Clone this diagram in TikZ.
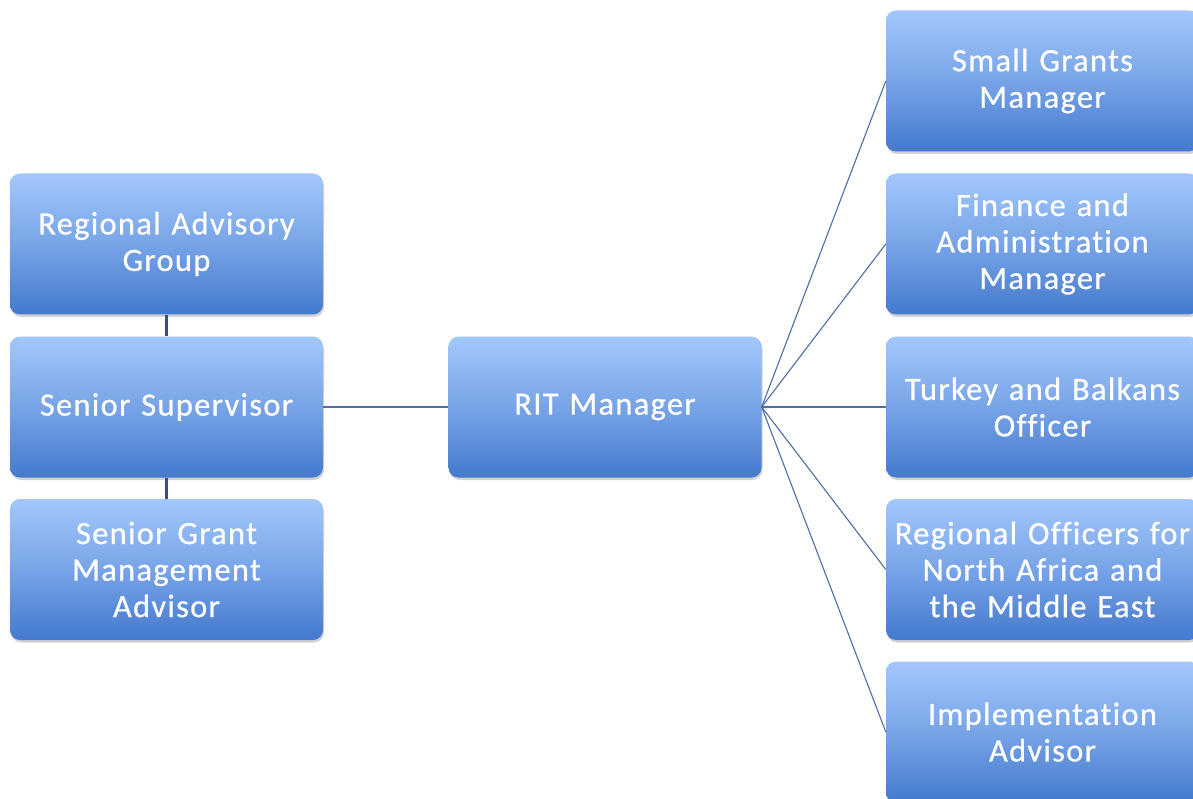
\documentclass[tikz,border=0pt]{standalone}
\usepackage{fontspec}
\setmainfont{Carlito}[LetterSpace=4, Ligatures={NoCommon}, FakeBold=0.6]
\usetikzlibrary{shadows}
\definecolor{boxtop}{RGB}{162,199,252}
\definecolor{boxbot}{RGB}{68,121,205}
\definecolor{linkblue}{RGB}{78,110,165}
\definecolor{stemblue}{RGB}{50,82,128}
\tikzset{
  orgbox/.style={rectangle, rounded corners=10pt, top color=boxtop, bottom color=boxbot,
    middle color=boxtop!55!boxbot,
    minimum width=313pt, minimum height=141pt, inner sep=0pt,
    text=white, align=center, text width=309pt,
    font=\fontsize{32.5}{36.5}\selectfont,
    drop shadow={shadow xshift=1pt, shadow yshift=-2.5pt, opacity=0.35, fill=gray}},
  fan/.style={draw=linkblue, line width=1.1pt},
  stem/.style={draw=stemblue, line width=3pt}
}
\begin{document}
\begin{tikzpicture}[x=1pt,y=-1pt]
\useasboundingbox (0,0) rectangle (1193,799);
\clip (0,0) rectangle (1193,799);
\fill[white] (0,0) rectangle (1193,799);
% left column
\node[orgbox] (rag) at (166.5,244) {Regional Advisory\\Group};
\node[orgbox] (ss)  at (166.5,407) {Senior Supervisor};
\node[orgbox] (sgma) at (166.5,569.5) {Senior Grant\\Management\\Advisor};
% centre
\node[orgbox] (rit) at (605,407) {RIT Manager};
% right column
\node[orgbox] (sgm) at (1042.5,81) {Small Grants\\Manager};
\node[orgbox] (fam) at (1042.5,244) {Finance and\\Administration\\Manager};
\node[orgbox] (tbo) at (1042.5,407) {Turkey and Balkans\\Officer};
\node[orgbox] (ro)  at (1042.5,569.5) {Regional Officers for\\North Africa and\\the Middle East};
\node[orgbox] (ia)  at (1042.5,732) {Implementation\\Advisor};
% connectors
\draw[stem] (rag.south) -- (ss.north);
\draw[stem] (ss.south) -- (sgma.north);
\draw[fan] (ss.east) -- (rit.west);
\foreach \t in {sgm,fam,tbo,ro,ia}
  \draw[fan] (rit.east) -- (\t.west);
\end{tikzpicture}
\end{document}
